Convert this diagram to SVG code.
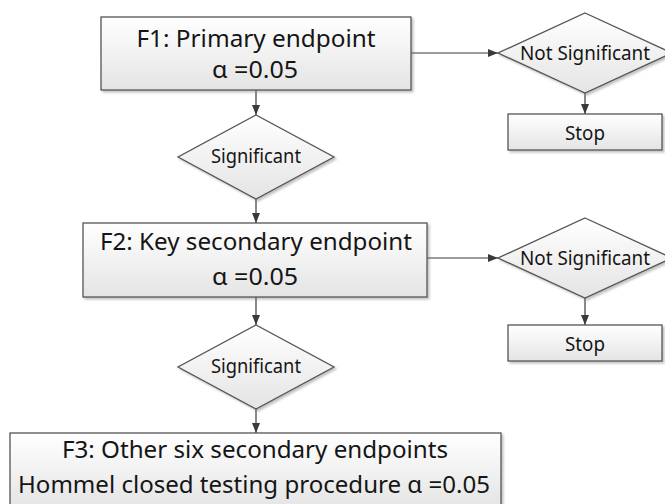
<svg xmlns="http://www.w3.org/2000/svg" width="665" height="504" viewBox="0 0 665 504">
  <defs>
    <linearGradient id="shade" x1="0" y1="0" x2="0" y2="1">
      <stop offset="0" stop-color="#ffffff"/>
      <stop offset="1" stop-color="#e4e4e4"/>
    </linearGradient>
    <filter id="shadow" x="-5%" y="-5%" width="115%" height="125%">
      <feDropShadow dx="2" dy="2" stdDeviation="1" flood-color="#7a7a7a" flood-opacity="0.45"/>
    </filter>
    <marker id="arrow" viewBox="0 0 10 8" refX="10" refY="4" markerWidth="10" markerHeight="8" markerUnits="userSpaceOnUse" orient="auto">
      <path d="M0,0 L10,4 L0,8 z" fill="#3a3a3a"/>
    </marker>
  </defs>
  <style>
    .shape { fill: url(#shade); stroke: #555555; stroke-width: 1.3; filter: url(#shadow); }
    .big { font-family: "Noto Sans", "Open Sans", sans-serif; font-size: 23.5px; fill: #151515; text-anchor: middle; }
    .small { font-family: "Noto Sans", "Open Sans", sans-serif; font-size: 20px; fill: #151515; text-anchor: middle; }
    .edge { stroke: #3a3a3a; stroke-width: 1.2; fill: none; marker-end: url(#arrow); }
  </style>
  <rect width="665" height="504" fill="#ffffff"/>

  <g id="connectors">
    <line class="edge" x1="256" y1="90" x2="256" y2="115"/>
    <line class="edge" x1="256" y1="199" x2="256" y2="223"/>
    <line class="edge" x1="256" y1="297" x2="256" y2="325"/>
    <line class="edge" x1="256" y1="409" x2="256" y2="433"/>
    <line class="edge" x1="411" y1="53" x2="498" y2="53"/>
    <line class="edge" x1="585" y1="93" x2="585" y2="114"/>
    <line class="edge" x1="427" y1="258" x2="498" y2="258"/>
    <line class="edge" x1="585" y1="298" x2="585" y2="325"/>
  </g>

  <g id="f1">
    <rect class="shape" x="101" y="17" width="310" height="73"/>
    <text class="big" x="256" y="47" textLength="239" lengthAdjust="spacingAndGlyphs">F1: Primary endpoint</text>
    <text class="big" x="255" y="78" textLength="86" lengthAdjust="spacingAndGlyphs">α =0.05</text>
  </g>

  <g id="sig1">
    <polygon class="shape" points="256,115 334,157 256,199 178,157"/>
    <text class="small" x="256" y="163" textLength="90" lengthAdjust="spacingAndGlyphs">Significant</text>
  </g>

  <g id="notsig1">
    <polygon class="shape" points="585,13 672,53 585,93 498,53"/>
    <text class="small" x="585" y="60" textLength="130" lengthAdjust="spacingAndGlyphs">Not Significant</text>
  </g>

  <g id="stop1">
    <rect class="shape" x="508" y="114" width="154" height="36"/>
    <text class="small" x="585" y="140" textLength="40" lengthAdjust="spacingAndGlyphs">Stop</text>
  </g>

  <g id="f2">
    <rect class="shape" x="83" y="223" width="344" height="74"/>
    <text class="big" x="256" y="250" textLength="312" lengthAdjust="spacingAndGlyphs">F2: Key secondary endpoint</text>
    <text class="big" x="255" y="285" textLength="86" lengthAdjust="spacingAndGlyphs">α =0.05</text>
  </g>

  <g id="notsig2">
    <polygon class="shape" points="585,218 672,258 585,298 498,258"/>
    <text class="small" x="585" y="265" textLength="130" lengthAdjust="spacingAndGlyphs">Not Significant</text>
  </g>

  <g id="stop2">
    <rect class="shape" x="508" y="325" width="154" height="36"/>
    <text class="small" x="585" y="351" textLength="40" lengthAdjust="spacingAndGlyphs">Stop</text>
  </g>

  <g id="sig2">
    <polygon class="shape" points="256,325 334,367 256,409 178,367"/>
    <text class="small" x="256" y="373" textLength="90" lengthAdjust="spacingAndGlyphs">Significant</text>
  </g>

  <g id="f3">
    <rect class="shape" x="10" y="433" width="491" height="76"/>
    <text class="big" x="255" y="458" textLength="386" lengthAdjust="spacingAndGlyphs">F3: Other six secondary endpoints</text>
    <text class="big" x="254" y="493" textLength="472" lengthAdjust="spacingAndGlyphs">Hommel closed testing procedure α =0.05</text>
  </g>
</svg>
